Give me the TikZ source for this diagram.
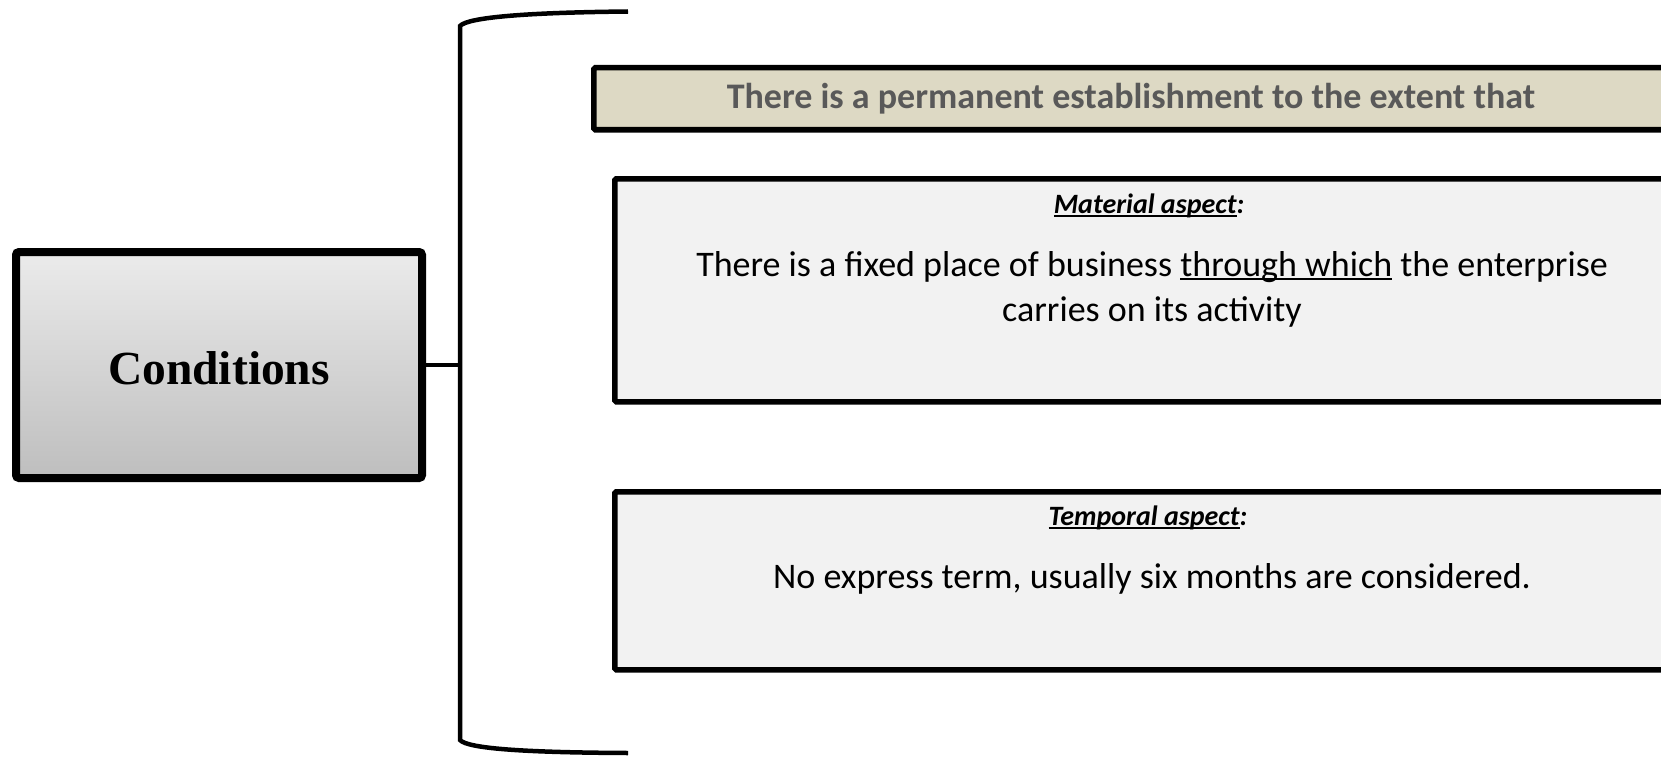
\documentclass[tikz,border=0pt]{standalone}
\usepackage{fontspec}
\setmainfont{Carlito}
\newfontfamily\timesfont{Liberation Serif}
\usetikzlibrary{shadows}
\definecolor{tanfill}{HTML}{DDD9C4}
\definecolor{boxfill}{HTML}{F2F2F2}
\definecolor{headtext}{HTML}{595959}
\definecolor{condtop}{HTML}{EBEBEB}
\definecolor{condbot}{HTML}{BEBEBE}
\newcommand\thickul[2][2pt]{\setbox0\hbox{#2}\rlap{\rule[-3.5pt]{\wd0}{#1}}\box0\relax}
\tikzset{
  condbox/.style={draw=black, line width=8pt, rounded corners=3pt, top color=condtop, bottom color=condbot,
    minimum width=406pt, minimum height=226pt, inner sep=0pt,
    drop shadow={opacity=0.3, shadow xshift=2pt, shadow yshift=-2pt}},
  headbox/.style={draw=black, line width=5.5pt, rounded corners=1.5pt, fill=tanfill, anchor=north west, inner sep=0pt},
  aspectbox/.style={draw=black, line width=5.5pt, rounded corners=1.5pt, fill=boxfill, anchor=north west, inner sep=0pt},
  bodytext/.style={anchor=base, font=\fontsize{36}{44}\selectfont, inner sep=0pt},
  aspecttitle/.style={anchor=base, font=\fontsize{28}{34}\selectfont\bfseries\itshape, inner sep=0pt},
  bracketline/.style={line width=4.5pt, black},
}
\begin{document}
\begin{tikzpicture}[x=1pt,y=-1pt]
\useasboundingbox (0,0) rectangle (1661,757);
\clip (0,0) rectangle (1661,757);
% left box
\node[condbox] (cond) at (219,365) {};
\node[anchor=base, inner sep=0pt, font=\timesfont\fontsize{47.5}{56}\selectfont\bfseries] (condtext) at (219,384) {Conditions};
% bracket
\coordinate (btop) at (628,11.5);
\coordinate (bjoin) at (460,365);
\coordinate (bbot) at (628,753);
\draw[bracketline] (btop) .. controls (530,12.5) and (468,17) .. (460,26) -- (460,740) .. controls (468,749) and (530,752.5) .. (bbot);
\draw[bracketline] (cond.east) -- (bjoin);
% header box
\node[headbox, minimum width=1078pt, minimum height=62pt] (head) at (591,65) {};
\node[anchor=base, inner sep=0pt, text=headtext, font=\fontsize{36}{42}\selectfont\bfseries] (headtext) at (1131,108.5) {There is a permanent establishment to the extent that};
% material box
\node[aspectbox, minimum width=1087pt, minimum height=223pt] (mat) at (612,176) {};
\node[aspecttitle] (mattitle) at (1149,213) {\thickul{Material aspect}:};
\node[bodytext] (matline1) at (1152,276.5) {There is a fixed place of business \thickul{through which} the enterprise};
\node[bodytext] (matline2) at (1152,321) {carries on its activity};
% temporal box
\node[aspectbox, minimum width=1087pt, minimum height=178pt] (temp) at (612,489) {};
\node[aspecttitle] (temptitle) at (1148,525) {\thickul{Temporal aspect}:};
\node[bodytext] (templine) at (1152,588.5) {No express term, usually six months are considered.};
\end{tikzpicture}
\end{document}
